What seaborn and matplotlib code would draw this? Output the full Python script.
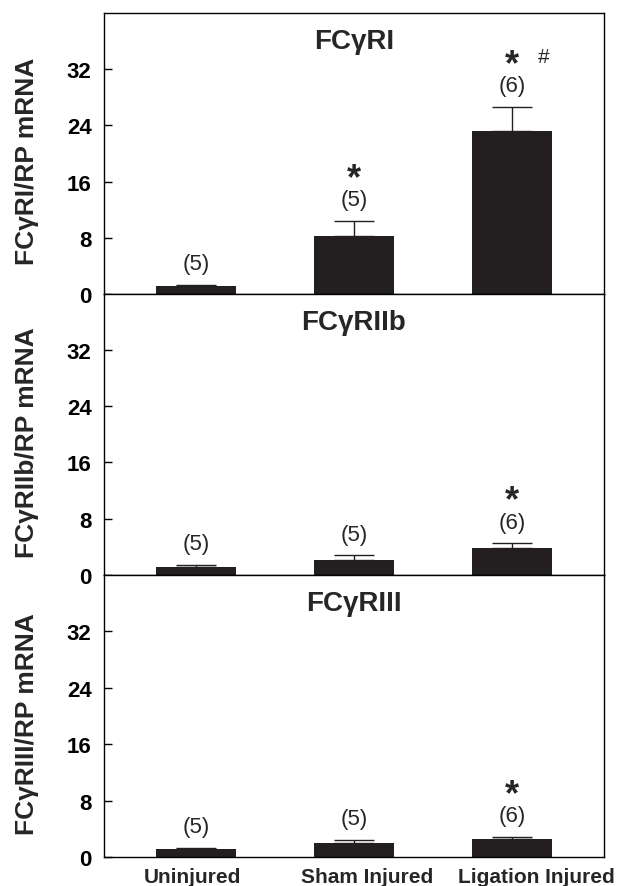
import matplotlib
matplotlib.use("Agg")
import matplotlib.pyplot as plt
import matplotlib.transforms as mtransforms
import seaborn as sns
import pandas as pd
import numpy as np

# ---- data ----
categories = ["Uninjured", "Sham Injured", "Ligation Injured"]
panel_titles = ["FCγRI", "FCγRIIb", "FCγRIII"]
y_labels = ["FCγRI/RP mRNA", "FCγRIIb/RP mRNA", "FCγRIII/RP mRNA"]

fcr1_mean = [1.1, 8.2, 23.2]
fcr1_sem = [0.22, 2.23, 3.47]
fcr2b_mean = [1.15, 2.14, 3.8]
fcr2b_sem = [0.23, 0.62, 0.70]
fcr3_mean = [1.13, 1.94, 2.55]
fcr3_sem = [0.19, 0.52, 0.33]

n_labels = ["(5)", "(5)", "(6)"]
sig_fcr1 = ["", "*", "*"]
hash_fcr1 = ["", "", "#"]
sig_fcr2b = ["", "", "*"]
sig_fcr3 = ["", "", "*"]

y_ticks = [0, 8, 16, 24, 32]

means = [fcr1_mean, fcr2b_mean, fcr3_mean]
sems = [fcr1_sem, fcr2b_sem, fcr3_sem]
sigs = [sig_fcr1, sig_fcr2b, sig_fcr3]
hashes = [hash_fcr1, ["", "", ""], ["", "", ""]]

sns.set_style("ticks")
plt.rcParams["font.family"] = ["Liberation Sans", "DejaVu Sans"]

W, H = 618, 887
fig = plt.figure(figsize=(W / 100, H / 100), dpi=100)

BAR = "#231f20"
left = 104 / W
right = 603.7 / W
tops = [14, 294.7, 575.7]
bottoms = [295, 575.7, 858]
xlabel_shift_px = [-4, 13, 24]

axes = []
for i in range(3):
    ax = fig.add_axes([left, 1 - bottoms[i] / H, right - left, (bottoms[i] - tops[i]) / H])
    axes.append(ax)
    df = pd.DataFrame({"group": categories, "value": means[i]})
    sns.barplot(data=df, x="group", y="value", order=categories, color=BAR,
                width=0.51, errorbar=None, saturation=1, ax=ax, zorder=2)
    for p in ax.patches:
        p.set_edgecolor(BAR)
        p.set_linewidth(0)
    centers = [p.get_x() + p.get_width() / 2 for p in ax.patches]
    m = np.array(means[i])
    s = np.array(sems[i])
    ax.errorbar(centers, m, yerr=[np.zeros_like(s), s], fmt="none",
                ecolor=BAR, elinewidth=1.0, capsize=14.5, capthick=1.0, zorder=1)
    ax.set_xlim(-0.582, 2.58)
    ax.set_ylim(0, 40)
    ax.set_yticks(y_ticks)
    ax.set_yticklabels([str(t) for t in y_ticks], fontsize=16, fontweight="bold")
    ax.tick_params(axis="y", direction="in", length=6, width=1, pad=9, colors="black")
    ax.tick_params(axis="x", length=0)
    for sp in ax.spines.values():
        sp.set_visible(True)
        sp.set_linewidth(1.0)
        sp.set_color("black")
    ax.set_xlabel("")
    ax.set_ylabel(y_labels[i], fontsize=19, fontweight="bold")
    ax.yaxis.set_label_coords(-0.131, 0.475)
    ax.text(0.5, 0.9, panel_titles[i], transform=ax.transAxes, ha="center",
            va="center", fontsize=20, fontweight="bold")
    for j, c in enumerate(centers):
        top = m[j] + s[j]
        ly = top + 3.0
        ax.text(c, ly, n_labels[j], ha="center", va="center", fontsize=16)
        if sigs[i][j]:
            ax.text(c, ly + 3.0, sigs[i][j], ha="center", va="center",
                    fontsize=26, fontweight="bold")
        if hashes[i][j]:
            ax.text(c + 0.2, ly + 4.2, hashes[i][j], ha="center", va="center",
                    fontsize=15)
    if i < 2:
        ax.set_xticklabels([])
    else:
        ax.set_xticks(range(3))
        ax.set_xticklabels(categories, fontsize=15, fontweight="bold")
        ax.tick_params(axis="x", pad=7)
        for lab, dx in zip(ax.get_xticklabels(), xlabel_shift_px):
            lab.set_transform(lab.get_transform() +
                              mtransforms.ScaledTranslation(dx / 100, 0, fig.dpi_scale_trans))

fig.savefig("out.png", dpi=100)
